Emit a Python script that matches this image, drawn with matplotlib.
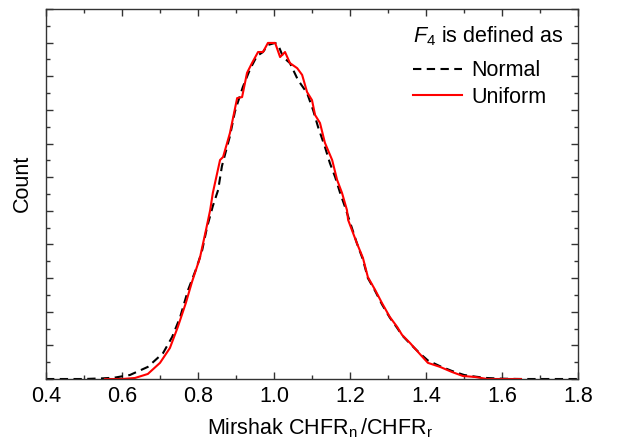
import numpy as np
import matplotlib
matplotlib.use("Agg")
import matplotlib.pyplot as plt
from matplotlib.ticker import MultipleLocator, NullFormatter

plt.rcParams['font.family'] = ['Liberation Sans', 'DejaVu Sans']
plt.rcParams['mathtext.fontset'] = 'custom'
plt.rcParams['mathtext.rm'] = 'Liberation Sans'
plt.rcParams['mathtext.it'] = 'Liberation Sans:italic'

# ratio values (x) and counts for each F4 definition
x_normal = [0.40, 0.45, 0.50, 0.55, 0.58, 0.621, 0.668, 0.708, 0.732, 0.753, 0.774,
            0.797, 0.811, 0.824, 0.839, 0.853, 0.863, 0.884, 0.897, 0.905, 0.918,
            0.937, 0.955, 0.971, 0.984, 1.003, 1.011, 1.024, 1.042, 1.063, 1.087,
            1.103, 1.116, 1.134, 1.147, 1.161, 1.174, 1.187, 1.218, 1.234, 1.247,
            1.266, 1.284, 1.305, 1.324, 1.337, 1.358, 1.384, 1.405, 1.437, 1.468,
            1.50, 1.53, 1.56, 1.60, 1.65, 1.70, 1.75, 1.80]
y_normal = [0.0, 0.0, 0.0, 0.02, 0.04, 0.12, 0.36, 0.77, 1.25, 1.84, 2.65,
            3.33, 3.83, 4.52, 5.14, 5.62, 6.33, 7.22, 7.94, 8.23, 8.68,
            9.21, 9.60, 9.72, 9.93, 9.99, 9.93, 9.57, 9.39, 8.89, 8.50,
            7.99, 7.49, 6.90, 6.42, 6.00, 5.53, 5.11, 4.04, 3.55, 3.00,
            2.62, 2.22, 1.82, 1.52, 1.30, 1.05, 0.76, 0.55, 0.38, 0.24,
            0.12, 0.07, 0.03, 0.01, 0.0, 0.0, 0.0, 0.0]

x_uniform = [0.555, 0.60, 0.634, 0.668, 0.700, 0.726, 0.747, 0.768, 0.784, 0.805,
             0.821, 0.832, 0.839, 0.858, 0.866, 0.884, 0.903, 0.916, 0.929, 0.942,
             0.958, 0.971, 0.984, 1.003, 1.016, 1.029, 1.042, 1.061, 1.074, 1.087,
             1.100, 1.108, 1.121, 1.134, 1.153, 1.166, 1.179, 1.192, 1.195, 1.218,
             1.234, 1.247, 1.266, 1.284, 1.305, 1.324, 1.337, 1.358, 1.384, 1.405,
             1.437, 1.468, 1.497, 1.529, 1.561, 1.60, 1.65]
y_uniform = [0.0, 0.0, 0.03, 0.15, 0.48, 0.92, 1.55, 2.26, 2.88, 3.60,
             4.43, 5.02, 5.53, 6.51, 6.60, 7.31, 8.35, 8.38, 9.10, 9.39,
             9.72, 9.72, 9.99, 9.99, 9.57, 9.72, 9.39, 9.24, 9.04, 8.53,
             8.29, 7.85, 7.61, 7.02, 6.51, 5.92, 5.53, 5.02, 4.73, 4.04,
             3.60, 3.03, 2.65, 2.26, 1.84, 1.55, 1.31, 1.07, 0.74, 0.48,
             0.36, 0.21, 0.09, 0.06, 0.0, 0.0, 0.0]

FS = 15.5

fig = plt.figure(figsize=(6.19, 4.48), dpi=100)
ax = fig.add_axes([0.0743, 0.154, 0.8595, 0.826])

ax.plot(x_normal, y_normal, color='black', linestyle=(0, (4, 2.6)), lw=1.5, label='Normal')
ax.plot(x_uniform, y_uniform, color='red', lw=1.5, label='Uniform')

ax.set_xlim(0.4, 1.8)
ax.set_ylim(0, 11)
ax.xaxis.set_major_locator(MultipleLocator(0.2))
ax.xaxis.set_minor_locator(MultipleLocator(0.1))
ax.yaxis.set_major_locator(MultipleLocator(1))
ax.yaxis.set_minor_locator(MultipleLocator(0.5))
ax.yaxis.set_major_formatter(NullFormatter())
ax.tick_params(which='both', direction='in', top=True, right=True, width=1, color='#333333')
ax.tick_params(which='major', length=5)
ax.tick_params(which='minor', length=3)
ax.tick_params(axis='x', labelsize=FS, pad=5)
for s in ax.spines.values():
    s.set_color('#333333')
    s.set_linewidth(1)

ax.set_xlabel(r'Mirshak CHFR$_\mathregular{n}\,$/CHFR$_\mathregular{r}$', fontsize=FS)
ax.xaxis.set_label_coords(0.515, -0.10)
ax.set_ylabel('Count', fontsize=FS)
ax.yaxis.set_label_coords(-0.024, 0.53)

leg = ax.legend(title=r'$F_\mathregular{4}$ is defined as', loc='upper right',
                bbox_to_anchor=(1.0, 1.0), frameon=False, fontsize=FS,
                title_fontsize=FS, handlelength=2.3, handletextpad=0.4,
                labelspacing=0.25, borderaxespad=0.3)
leg._legend_box.align = 'left'
leg._legend_box.sep = 9

fig.savefig('out.png', dpi=100)
